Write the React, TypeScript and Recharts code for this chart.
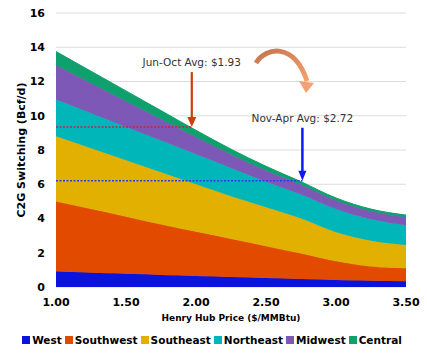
import React from "react";
import {
  AreaChart,
  Area,
  XAxis,
  YAxis,
  CartesianGrid,
  ReferenceLine,
  Legend,
} from "recharts";

// Henry Hub price ($/MMBtu)
const prices = [1.0, 1.25, 1.5, 1.75, 2.0, 2.25, 2.5, 2.75, 3.0, 3.25, 3.5];

// C2G switching by region (Bcf/d), stacked
const west = [0.9, 0.83, 0.77, 0.7, 0.64, 0.58, 0.52, 0.46, 0.41, 0.36, 0.33];
const southwest = [4.1, 3.72, 3.33, 2.95, 2.58, 2.22, 1.86, 1.49, 1.09, 0.84, 0.77];
const southeast = [3.8, 3.55, 3.3, 3.05, 2.78, 2.5, 2.27, 2.05, 1.7, 1.5, 1.35];
const northeast = [2.15, 2.05, 1.95, 1.85, 1.75, 1.65, 1.5, 1.4, 1.35, 1.25, 1.15];
const midwest = [2.0, 1.75, 1.5, 1.25, 1.0, 0.78, 0.65, 0.57, 0.5, 0.47, 0.48];
const central = [0.8, 0.7, 0.6, 0.5, 0.4, 0.32, 0.25, 0.18, 0.15, 0.13, 0.12];

const xTicks = [1.0, 1.5, 2.0, 2.5, 3.0, 3.5];
const yTicks = [0, 2, 4, 6, 8, 10, 12, 14, 16];

// seasonal averages
const junOctPrice = 1.97;
const junOctLevel = 9.35;
const novAprPrice = 2.76;
const novAprLevel = 6.2;

const data = prices.map((p, i) => ({
  price: p,
  West: west[i],
  Southwest: southwest[i],
  Southeast: southeast[i],
  Northeast: northeast[i],
  Midwest: midwest[i],
  Central: central[i],
}));

const series = [
  { key: "West", color: "#0a14dc" },
  { key: "Southwest", color: "#e24a00" },
  { key: "Southeast", color: "#e2b000" },
  { key: "Northeast", color: "#00b6b8" },
  { key: "Midwest", color: "#7e58b6" },
  { key: "Central", color: "#10a06e" },
];

const FONT = "'DejaVu Sans', Verdana, sans-serif";

const YTitle = (props: any) => {
  const vb = props.viewBox || { x: 0, y: 13, width: 56, height: 274 };
  const cx = vb.x + 21;
  const cy = vb.y + vb.height / 2;
  return (
    <text
      x={cx}
      y={cy}
      transform={`rotate(-90, ${cx}, ${cy})`}
      textAnchor="middle"
      dominantBaseline="central"
      fontFamily={FONT}
      fontSize={11}
      fontWeight="bold"
      fill="#000"
    >
      C2G Switching (Bcf/d)
    </text>
  );
};

const XTitle = (props: any) => {
  const vb = props.viewBox || { x: 56, y: 287, width: 350, height: 40 };
  return (
    <text
      x={vb.x + vb.width / 2}
      y={vb.y + 34}
      textAnchor="middle"
      fontFamily={FONT}
      fontSize={9}
      fontWeight="bold"
      fill="#000"
    >
      Henry Hub Price ($/MMBtu)
    </text>
  );
};

const makeArrow = (color: string, label: string, shaft: number, headW: number, headL: number) =>
  (props: any) => {
    const { x1, y1, x2, y2 } = props;
    return (
      <g>
        <line x1={x1} y1={y1} x2={x2} y2={y2 - headL + 1} stroke={color} strokeWidth={shaft} />
        <polygon
          points={`${x2 - headW / 2},${y2 - headL} ${x2 + headW / 2},${y2 - headL} ${x2},${y2}`}
          fill={color}
        />
        <text
          x={x1}
          y={y1 - 6}
          textAnchor="middle"
          fontFamily={FONT}
          fontSize={10.5}
          fill="#333"
        >
          {label}
        </text>
      </g>
    );
  };

const LegendContent = (props: any) => {
  const payload = props.payload || [];
  const items = series
    .map((s) => payload.find((p: any) => p.value === s.key || p.dataKey === s.key))
    .filter(Boolean);
  return (
    <div
      style={{
        display: "flex",
        justifyContent: "center",
        fontFamily: FONT,
        fontSize: 10.5,
        fontWeight: "bold",
        color: "#000",
        lineHeight: "14px",
      }}
    >
      {items.map((it: any) => (
        <span
          key={it.value}
          style={{ display: "flex", alignItems: "center", marginRight: 3 }}
        >
          <span
            style={{
              width: 8,
              height: 8,
              background: it.color,
              marginRight: 2,
              display: "inline-block",
            }}
          />
          {it.value}
        </span>
      ))}
    </div>
  );
};

export default function App() {
  return (
    <div style={{ position: "relative", width: 427, height: 354, background: "#fff" }}>
      <style>{"body{margin:0}"}</style>
      <AreaChart
        width={427}
        height={354}
        data={data}
        margin={{ top: 13, right: 21, bottom: 27, left: 0 }}
      >
        <CartesianGrid vertical={false} stroke="#dcdcdc" />
        <XAxis
          dataKey="price"
          type="number"
          domain={[1, 3.5]}
          ticks={xTicks}
          tickFormatter={(v: number) => v.toFixed(2)}
          axisLine={false}
          tickLine={false}
          tickSize={0}
          tickMargin={11}
          height={40}
          tick={{ fontFamily: FONT, fontSize: 11, fontWeight: "bold", fill: "#000" }}
          label={<XTitle />}
        />
        <YAxis
          type="number"
          domain={[0, 16]}
          ticks={yTicks}
          axisLine={false}
          tickLine={false}
          tickSize={0}
          tickMargin={11}
          width={56}
          tick={{ fontFamily: FONT, fontSize: 11, fontWeight: "bold", fill: "#000" }}
          label={<YTitle />}
        />
        {series.map((s) => (
          <Area
            key={s.key}
            type="monotone"
            dataKey={s.key}
            stackId="1"
            stroke={s.color}
            strokeWidth={1}
            fill={s.color}
            fillOpacity={1}
            isAnimationActive={false}
          />
        ))}
        <ReferenceLine
          segment={[
            { x: 1, y: junOctLevel },
            { x: junOctPrice, y: junOctLevel },
          ]}
          stroke="#c0283a"
          strokeWidth={1.5}
          strokeDasharray="2 1.5"
        />
        <ReferenceLine
          segment={[
            { x: 1, y: novAprLevel },
            { x: novAprPrice, y: novAprLevel },
          ]}
          stroke="#2a3ce6"
          strokeWidth={1.5}
          strokeDasharray="2 1.5"
        />
        <ReferenceLine
          segment={[
            { x: junOctPrice, y: 12.55 },
            { x: junOctPrice, y: junOctLevel },
          ]}
          shape={makeArrow("#c8400c", "Jun-Oct Avg: $1.93", 2.2, 9, 10)}
        />
        <ReferenceLine
          segment={[
            { x: novAprPrice, y: 9.3 },
            { x: novAprPrice, y: novAprLevel },
          ]}
          shape={makeArrow("#0a1cf0", "Nov-Apr Avg: $2.72", 2.5, 8, 10)}
        />
        <Legend
          verticalAlign="middle"
          layout="horizontal"
          wrapperStyle={{ left: 0, top: 333, width: 427 }}
          content={<LegendContent />}
        />
      </AreaChart>
      <svg
        width={427}
        height={354}
        style={{ position: "absolute", left: 0, top: 0, pointerEvents: "none" }}
      >
        <defs>
          <linearGradient id="curveGrad" x1="0" y1="0" x2="1" y2="1">
            <stop offset="0%" stopColor="#c4764e" />
            <stop offset="100%" stopColor="#f4a070" />
          </linearGradient>
        </defs>
        <path
          d="M 256 63 C 266 47, 294 42, 307 81"
          fill="none"
          stroke="url(#curveGrad)"
          strokeWidth={5}
        />
        <polygon points="299,81 314,83 306,93" fill="#f4a070" />
      </svg>
    </div>
  );
}
